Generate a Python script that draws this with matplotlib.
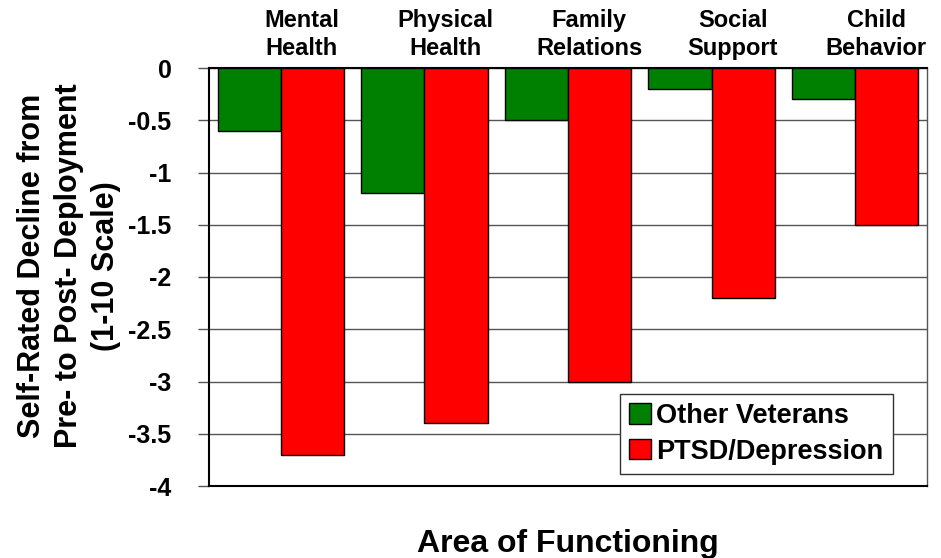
import numpy as np
import matplotlib.pyplot as plt
from matplotlib import transforms

plt.rcParams['font.family'] = ['Liberation Sans', 'DejaVu Sans']
plt.rcParams['font.weight'] = 'bold'

# Areas of functioning and the decline for each group
categories = ['Mental\nHealth', 'Physical\nHealth', 'Family\nRelations', 'Social\nSupport', 'Child\nBehavior']
other_veterans = [-0.6, -1.2, -0.5, -0.2, -0.3]
ptsd_depression = [-3.7, -3.4, -3.0, -2.2, -1.5]
y_ticks = [0, -0.5, -1, -1.5, -2, -2.5, -3, -3.5, -4]
y_tick_labels = ['0', '-0.5', '-1', '-1.5', '-2', '-2.5', '-3', '-3.5', '-4']

fig = plt.figure(figsize=(9.41, 5.58), dpi=100)
ax = fig.add_axes([209 / 941, 1 - 486 / 558, (927 - 209) / 941, (486 - 68) / 558])

x = np.arange(len(categories))
width = 0.44

ax.bar(x - width / 2, other_veterans, width, color='#008000', edgecolor='black',
       linewidth=1, label='Other Veterans', zorder=3)
ax.bar(x + width / 2, ptsd_depression, width, color='#ff0000', edgecolor='black',
       linewidth=1, label='PTSD/Depression', zorder=3)

ax.set_xlim(-0.5, len(categories) - 0.5)
ax.set_ylim(-4, 0)
ax.set_yticks(y_ticks)
ax.set_yticklabels(y_tick_labels, fontsize=18, fontweight='bold')
ax.yaxis.grid(True, color='#555555', linewidth=1, zorder=0)
ax.tick_params(axis='y', direction='out', length=8, width=1, pad=19, color='#555555')

# Category names sit above the plot area
ax.xaxis.tick_top()
ax.set_xticks(x)
ax.set_xticklabels(categories, fontsize=17, fontweight='bold', linespacing=1.25)
ax.tick_params(axis='x', length=0, pad=6)
shift = transforms.ScaledTranslation(21 / 100, 0, fig.dpi_scale_trans)
for lbl in ax.get_xticklabels():
    lbl.set_transform(lbl.get_transform() + shift)

for side in ['top', 'bottom', 'left']:
    ax.spines[side].set_linewidth(1.5)
    ax.spines[side].set_color('black')
ax.spines['right'].set_color('#555555')
ax.spines['right'].set_linewidth(1)

fig.text(69 / 941, 1 - 266 / 558,
         'Self-Rated Decline from\nPre- to Post- Deployment\n(1-10 Scale)',
         rotation=90, ha='center', va='center', multialignment='center',
         fontsize=22, fontweight='bold', linespacing=1.3)
fig.text(568 / 941, 1 - 544 / 558, 'Area of Functioning', ha='center', va='center',
         fontsize=23, fontweight='bold')

leg = ax.legend(loc='lower right', bbox_to_anchor=(893 / 941, 1 - 474 / 558),
                bbox_transform=fig.transFigure, fontsize=19.5, frameon=True,
                fancybox=False, edgecolor='#333333', framealpha=1,
                handlelength=0.8, handleheight=0.8, handletextpad=0.2,
                borderpad=0.35, labelspacing=0.35, borderaxespad=0)
leg.get_frame().set_linewidth(1)
for t in leg.get_texts():
    t.set_fontweight('bold')

fig.savefig('out.png', dpi=100)
